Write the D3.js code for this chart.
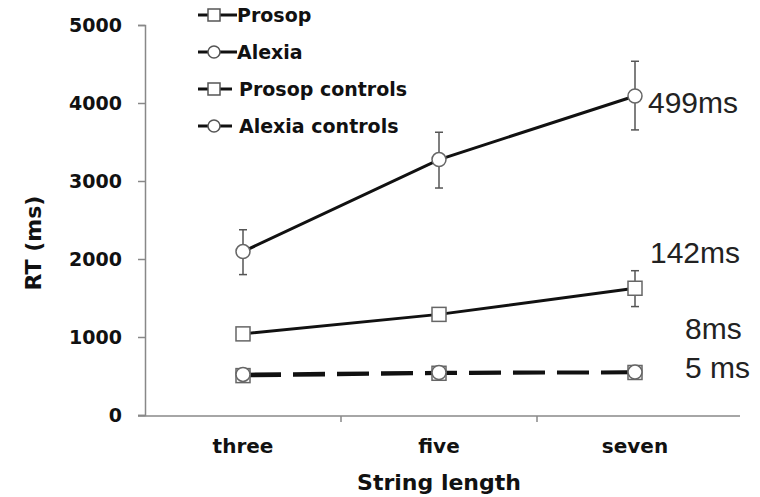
<!DOCTYPE html>
<html>
<head>
<meta charset="utf-8">
<script src="https://cdn.jsdelivr.net/npm/d3@7"></script>
<style>
  body { margin: 0; background: #fff; }
  svg text { font-family: "DejaVu Sans", Verdana, sans-serif; }
</style>
</head>
<body>
<div id="chart"></div>
<script>
var categories = ["three", "five", "seven"];
var yTicks = [0, 1000, 2000, 3000, 4000, 5000];

var alexia = [2095, 3275, 4090];
var alexiaLo = [1800, 2910, 3655];
var alexiaHi = [2375, 3625, 4535];

var prosop = [1040, 1290, 1625];
var prosopLo = [1040, 1290, 1390];
var prosopHi = [1040, 1290, 1850];

var prosopControls = [505, 535, 545];
var alexiaControls = [520, 545, 550];

var legendNames = ["Prosop", "Alexia", "Prosop controls", "Alexia controls"];
var legendShapes = ["square", "circle", "square", "circle"];

var notes = ["499ms", "142ms", "8ms", "5 ms"];
var noteX = [648, 650, 685, 685];
var noteY = [102, 252, 328, 367];

var w = 760, h = 497;
var svg = d3.select("#chart").append("svg")
    .attr("width", w)
    .attr("height", h);

var x = d3.scaleBand().domain(categories).range([145, 733]);
var y = d3.scaleLinear().domain([0, 5000]).range([415, 25]);
var cx = function (c) { return x(c) + x.bandwidth() / 2; };

// y axis
var yAxis = svg.append("g")
    .attr("transform", "translate(145,0)")
    .call(d3.axisLeft(y).tickValues(yTicks).tickSize(7).tickFormat(d3.format("d")));
yAxis.select(".domain").attr("stroke", "#888").attr("stroke-width", 1.5);
yAxis.selectAll(".tick line").attr("stroke", "#888").attr("stroke-width", 1.5);
yAxis.selectAll(".tick text")
    .attr("x", -23)
    .attr("font-size", 19)
    .attr("font-weight", "bold")
    .attr("font-family", "DejaVu Sans, sans-serif")
    .attr("fill", "#111");

// x axis (ticks between categories)
var xAxis = svg.append("g")
    .attr("transform", "translate(0,416)");
xAxis.append("line")
    .attr("x1", 138).attr("x2", 740)
    .attr("stroke", "#888").attr("stroke-width", 1.5);
xAxis.selectAll(".sep")
    .data(categories.slice(1))
    .enter().append("line")
    .attr("x1", function (d) { return x(d); })
    .attr("x2", function (d) { return x(d); })
    .attr("y1", 0).attr("y2", 6)
    .attr("stroke", "#888").attr("stroke-width", 1.5);
xAxis.selectAll(".lbl")
    .data(categories)
    .enter().append("text")
    .attr("x", cx)
    .attr("y", 37)
    .attr("text-anchor", "middle")
    .attr("font-size", 20)
    .attr("font-weight", "bold")
    .attr("fill", "#111")
    .text(function (d) { return d; });

svg.append("text")
    .attr("x", cx("five"))
    .attr("y", 490)
    .attr("text-anchor", "middle")
    .attr("font-size", 22)
    .attr("font-weight", "bold")
    .attr("fill", "#111")
    .text("String length");

svg.append("text")
    .attr("transform", "translate(41,243) rotate(-90)")
    .attr("text-anchor", "middle")
    .attr("font-size", 22)
    .attr("font-weight", "bold")
    .attr("fill", "#111")
    .text("RT (ms)");

var line = d3.line()
    .x(function (d, i) { return cx(categories[i]); })
    .y(function (d) { return y(d); });

function drawErr(lo, hi) {
    categories.forEach(function (c, i) {
        if (hi[i] - lo[i] < 1) return;
        var g = svg.append("g").attr("stroke", "#555").attr("stroke-width", 1.5);
        g.append("line").attr("x1", cx(c)).attr("x2", cx(c)).attr("y1", y(lo[i])).attr("y2", y(hi[i]));
        g.append("line").attr("x1", cx(c) - 4).attr("x2", cx(c) + 4).attr("y1", y(lo[i])).attr("y2", y(lo[i]));
        g.append("line").attr("x1", cx(c) - 4).attr("x2", cx(c) + 4).attr("y1", y(hi[i])).attr("y2", y(hi[i]));
    });
}

function drawMarkers(vals, shape) {
    categories.forEach(function (c, i) {
        if (shape === "square") {
            svg.append("rect")
                .attr("x", cx(c) - 7).attr("y", y(vals[i]) - 7)
                .attr("width", 14).attr("height", 14)
                .attr("fill", "#fff").attr("stroke", "#666").attr("stroke-width", 1.5);
        } else {
            svg.append("circle")
                .attr("cx", cx(c)).attr("cy", y(vals[i])).attr("r", 7)
                .attr("fill", "#fff").attr("stroke", "#666").attr("stroke-width", 1.5);
        }
    });
}

// controls (dashed)
[prosopControls, alexiaControls].forEach(function (vals) {
    svg.append("path")
        .attr("d", line(vals))
        .attr("fill", "none")
        .attr("stroke", "#111")
        .attr("stroke-width", 3.5)
        .attr("stroke-dasharray", "32,12")
        .attr("stroke-dashoffset", -6);
});
drawMarkers(prosopControls, "square");
drawMarkers(alexiaControls, "circle");

// patients
drawErr(prosopLo, prosopHi);
svg.append("path").attr("d", line(prosop))
    .attr("fill", "none").attr("stroke", "#111").attr("stroke-width", 3);
drawMarkers(prosop, "square");

drawErr(alexiaLo, alexiaHi);
svg.append("path").attr("d", line(alexia))
    .attr("fill", "none").attr("stroke", "#111").attr("stroke-width", 3);
drawMarkers(alexia, "circle");

// legend
var legend = svg.append("g");
legendNames.forEach(function (name, i) {
    var ly = 15 + i * 37;
    var g = legend.append("g").attr("transform", "translate(198," + ly + ")");
    g.append("line").attr("x1", 0).attr("x2", 10).attr("stroke", "#111").attr("stroke-width", 3);
    g.append("line").attr("x1", 22).attr("x2", i < 2 ? 39 : 34).attr("stroke", "#111").attr("stroke-width", 3);
    if (legendShapes[i] === "square") {
        g.append("rect").attr("x", 10).attr("y", -6).attr("width", 12).attr("height", 12)
            .attr("fill", "#fff").attr("stroke", "#555").attr("stroke-width", 1.5);
    } else {
        g.append("circle").attr("cx", 16).attr("cy", 0).attr("r", 6)
            .attr("fill", "#fff").attr("stroke", "#555").attr("stroke-width", 1.5);
    }
    g.append("text")
        .attr("x", i < 2 ? 39 : 41)
        .attr("y", 0)
        .attr("dy", "0.35em")
        .attr("font-size", 19)
        .attr("font-weight", "bold")
        .attr("fill", "#111")
        .text(name);
});

// slope annotations
notes.forEach(function (t, i) {
    svg.append("text")
        .attr("x", noteX[i])
        .attr("y", noteY[i])
        .attr("dy", "0.35em")
        .style("font-family", "'Liberation Sans', Arial, sans-serif")
        .attr("font-size", 30)
        .attr("fill", "#222")
        .text(t);
});
</script>
</body>
</html>
